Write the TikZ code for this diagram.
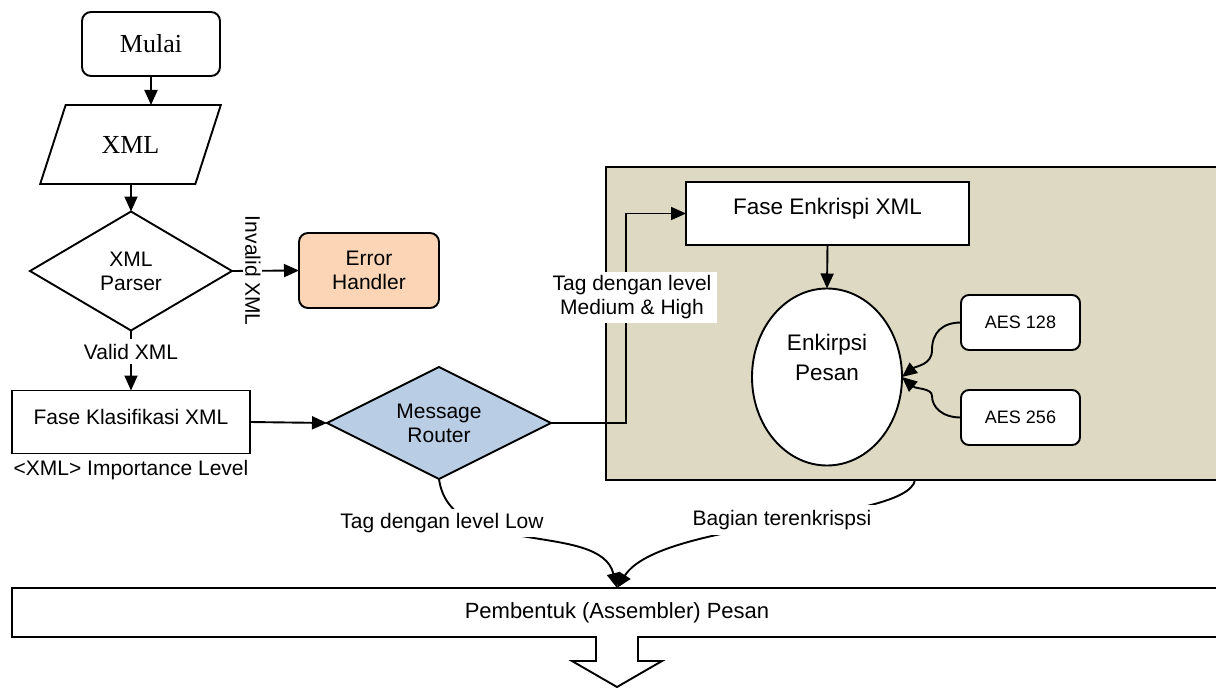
\documentclass[tikz,border=0pt]{standalone}
\usepackage{fontspec}
\setmainfont{Liberation Sans}
\newfontfamily\timesfam{Liberation Serif}
\usetikzlibrary{shapes.geometric, arrows.meta}
\definecolor{peach}{RGB}{251,213,181}
\definecolor{routerblue}{RGB}{185,205,229}
\definecolor{stagetan}{RGB}{221,217,195}

\begin{document}
\begin{tikzpicture}[x=1pt, y=-1pt,
  every node/.style={outer sep=0pt, inner sep=2pt},
  ln/.style={line width=1.9pt},
  arr/.style={ln, -{Triangle[length=15pt,width=13pt]}},
  txt/.style={font=\fontsize{21}{24}\selectfont, align=center},
  shp/.style={draw, ln, txt},
  lbl/.style={txt, fill=white},
  serifbig/.style={font=\timesfam\fontsize{26}{30}\selectfont},
]
\useasboundingbox (0,0) rectangle (1216,688);

% encryption stage (background panel)
\node[draw, ln, fill=stagetan, rectangle, minimum width=618pt, minimum height=313pt] (encbox) at (915,323.5) {};

% flow nodes
\node[shp, serifbig, rounded corners=9pt, minimum width=138pt, minimum height=64pt] (mulai) at (151,44) {Mulai};
\node[shp, serifbig, trapezium, trapezium left angle=60, trapezium right angle=120,
      trapezium stretches=true, minimum width=181pt, minimum height=79pt] (xml) at (130.5,144.5) {XML};
\node[shp, diamond, aspect=1.7, minimum width=202pt, minimum height=119pt] (parser) at (131,271) {XML\\Parser};
\node[shp, rounded corners=9pt, fill=peach, minimum width=140pt, minimum height=75pt] (err) at (369,270.5) {Error\\Handler};
\node[shp, minimum width=238pt, minimum height=63pt, text depth=11pt] (klas) at (131,422) {Fase Klasifikasi XML};
\node[txt] (imp) at (131,470) {<XML> Importance Level};
\node[shp, diamond, aspect=2, fill=routerblue, minimum width=224pt, minimum height=112pt] (router) at (439,423) {Message\\Router};

% encryption stage content
\node[shp, fill=white, minimum width=283pt, minimum height=63pt, text depth=15pt, font=\fontsize{22.5}{27}\selectfont] (fenk) at (827.5,213.5) {Fase Enkrispi XML};
\node[draw, ln, ellipse, fill=white, minimum width=150pt, minimum height=177pt] (enc) at (827,377) {};
\node[txt, font=\fontsize{22.5}{30}\selectfont] (enctext) at (827,357) {Enkirpsi\\Pesan};
\node[shp, rounded corners=8pt, fill=white, minimum width=119pt, minimum height=55pt, font=\fontsize{18}{22}\selectfont] (aes1) at (1020.5,322.5) {AES 128};
\node[shp, rounded corners=8pt, fill=white, minimum width=119pt, minimum height=55pt, font=\fontsize{18}{22}\selectfont] (aes2) at (1020.5,417.5) {AES 256};

% assembler
\node[shp, fill=white, minimum width=1210pt, minimum height=49pt, font=\fontsize{22}{26}\selectfont] (asm) at (617,612.5) {Pembentuk (Assembler) Pesan};
\fill[white] (596.9,635.2) rectangle (637.1,639.5);
\draw[ln, fill=white] ([xshift=-21pt]asm.south) -- ++(0,24) -- ++(-24,0) -- ++(45,26) -- ++(45,-26) -- ++(-24,0) -- ++(0,-24);

% connectors
\draw[arr] (mulai.south) -- (mulai.south |- xml.north);
\draw[arr] (xml.south -| parser.north) -- (parser.north);
\draw[arr] (parser.east) -- node[lbl, rotate=-90, pos=0.31] {Invalid XML} (err.west);
\draw[arr] (parser.south) -- node[lbl, pos=0.35, inner ysep=5pt] {Valid XML} (klas.north);
\draw[arr] (klas.east) -- (router.west);
\draw[arr] (router.east) -- ++(75,0) |- (fenk.west);
\node[lbl, inner xsep=6pt, inner ysep=4pt] (lblmh) at (632,297.5) {Tag dengan level\\Medium \& High};
\draw[arr] (fenk.south) -- (enc.north);
\draw[arr] (aes1.west) .. controls (942,322.5) and (932,333) .. (932,350)
                        .. controls (932,365) and (916,366) .. (enc.east);
\draw[arr] (aes2.west) .. controls (942,417.5) and (932,407) .. (932,396)
                        .. controls (932,388) and (916,389) .. (enc.east);

% routes into the assembler
\draw[arr] (router.south) .. controls (450,560) and (600,520) .. (asm.north);
\node[lbl, inner ysep=4pt] (lowlbl) at (442,523) {Tag dengan level Low};
\draw[arr] (encbox.south) .. controls (908,522) and (660,520) .. (asm.north);
\node[lbl, inner ysep=5pt, inner xsep=6pt] (enclbl) at (782,520) {Bagian terenkrispsi};
\end{tikzpicture}
\end{document}
